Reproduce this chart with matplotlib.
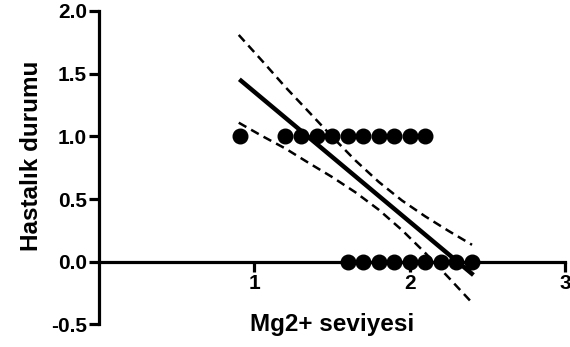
import matplotlib
matplotlib.use("Agg")
import matplotlib.pyplot as plt
import numpy as np

plt.rcParams['font.family'] = ['Liberation Sans', 'DejaVu Sans']
plt.rcParams['font.weight'] = 'bold'

# Mg2+ levels by disease status (1 = hasta, 0 = sağlıklı)
mg_hasta = [0.91, 1.2, 1.3, 1.4, 1.5, 1.6, 1.7, 1.8, 1.9, 2.0, 2.1]
mg_saglikli = [1.6, 1.7, 1.8, 1.9, 2.0, 2.1, 2.2, 2.3, 2.4]

# linear fit end points
fit_x = [0.904, 2.409]
fit_y = [1.455, -0.106]

# 95% confidence band
band_x = [0.90, 1.05, 1.20, 1.35, 1.50, 1.65, 1.80, 1.95, 2.10, 2.25, 2.40]
band_hi = [1.809, 1.603, 1.393, 1.196, 0.998, 0.808, 0.637, 0.488, 0.361, 0.245, 0.135]
band_lo = [1.109, 1.003, 0.903, 0.788, 0.676, 0.554, 0.415, 0.252, 0.069, -0.127, -0.327]

x_ticks = [1, 2, 3]
y_ticks = [-0.5, 0.0, 0.5, 1.0, 1.5, 2.0]
y_ticklabels = ['-0.5', '0.0', '0.5', '1.0', '1.5', '2.0']

fig = plt.figure(figsize=(5.7, 3.47), dpi=100)
ax = fig.add_axes([0.1733, 0.0651, 0.8185, 0.9032])

# axes frame first: moving a spine resets the tick styling
for s in ['top', 'right']:
    ax.spines[s].set_visible(False)
ax.spines['bottom'].set_position(('data', 0))
for s in ['left', 'bottom']:
    ax.spines[s].set_linewidth(2.3)

ax.plot(mg_hasta, np.ones(len(mg_hasta)), 'o', color='black', ms=10.5, zorder=3, clip_on=False)
ax.plot(mg_saglikli, np.zeros(len(mg_saglikli)), 'o', color='black', ms=10.5, zorder=3, clip_on=False)

ax.plot(fit_x, fit_y, color='black', lw=3.2, solid_capstyle='butt', zorder=4)
ax.plot(band_x, band_hi, color='black', lw=1.8, dashes=(3.5, 2.2), zorder=4)
ax.plot(band_x, band_lo, color='black', lw=1.8, dashes=(3.5, 2.2), zorder=4)

ax.set_xlim(0, 3)
ax.set_ylim(-0.5, 2.0)
ax.set_xticks(x_ticks)
ax.set_xticklabels([str(t) for t in x_ticks])
ax.set_yticks(y_ticks)
ax.set_yticklabels(y_ticklabels)
ax.tick_params(axis='both', width=2.3, length=7.5, pad=1, labelsize=15)
for lbl in ax.get_xticklabels() + ax.get_yticklabels():
    lbl.set_fontweight('heavy')

ax.set_xlabel('Mg2+ seviyesi', fontsize=17.5, fontweight='bold')
ax.set_ylabel('Hastalık durumu', fontsize=17.5, fontweight='bold')
ax.xaxis.set_label_coords(0.5, 0.037)
ax.yaxis.set_label_coords(-0.12, 0.537)

fig.savefig('out.png', dpi=100)
